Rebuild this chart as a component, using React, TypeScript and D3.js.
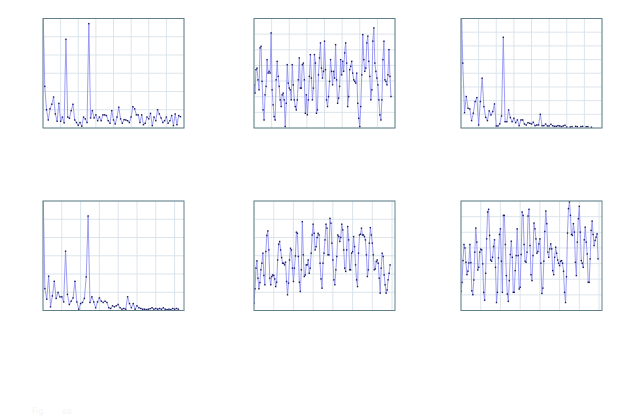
import React from "react";
import * as d3 from "d3";

// ---------- data (values in panel units) ----------
const series1: (number | null)[] = [6.6, 2.28, 1.0, 0.44, 1.05, 1.3, 1.7, 0.77, 0.37, 1.35, 0.37, 0.6, 0.28, 4.86, 0.6, 0.53, 0.95, 1.3, 0.44, 0.3, 0.15, 0.3, 0.1, 0.6, 0.5, 0.3, 5.72, 0.55, 0.95, 0.55, 0.72, 0.4, 0.6, 0.4, 0.72, 0.72, 0.68, 0.4, 0.26, 0.95, 0.44, 0.22, 0.6, 1.14, 0.5, 0.26, 0.46, 0.44, 0.4, 0.3, 0.6, 1.17, 1.05, 0.72, 0.72, 0.3, 0.72, 0.18, 0.26, 0.6, 0.5, 0.8, 0.13, 0.6, 0.4, 1.0, 0.77, 0.55, 0.3, 0.4, 0.6, 0.26, 0.4, 0.68, 0.13, 0.77, 0.18, 0.68, 0.62];

const series2: (number | null)[] = [2.76, 2.23, 3.73, 3.83, 3.08, 2.44, 5.12, 5.22, 2.98, 1.16, 0.51, 2.12, 2.66, 4.37, 3.51, 3.62, 3.51, 6.08, 2.44, 1.48, 0.73, 0.51, 3.08, 4.26, 3.3, 2.66, 1.8, 1.37, 2.12, 2.23, 1.8, 0.09, 1.58, 4.05, 2.87, 2.55, 2.44, 1.8, 4.05, 2.76, 1.8, 1.37, 1.16, 1.8, 3.08, 4.48, 2.55, 2.55, 4.05, 4.15, 3.08, 0.94, 2.12, 0.84, 1.8, 3.3, 4.69, 3.19, 1.8, 2.55, 4.69, 4.15, 0.94, 1.16, 3.4, 4.48, 5.44, 3.83, 3.19, 3.62, 5.55, 3.73, 1.8, 1.37, 2.01, 2.98, 4.37, 3.62, 2.76, 3.62, 3.19, 5.33, 3.08, 1.58, 1.91, 2.66, 4.37, 3.4, 4.26, 3.62, 4.8, 5.44, 4.15, 1.37, 2.01, 3.73, 3.94, 4.26, 3.51, 3.08, 2.98, 2.87, 3.51, 1.58, 0.62, 0.09, 1.37, 3.4, 5.97, 4.37, 3.62, 3.83, 5.44, 5.87, 4.26, 3.3, 1.8, 2.44, 5.55, 6.4, 4.15, 3.62, 3.19, 2.76, 1.8, 0.84, 0.51, 1.8, 4.37, 5.55, 3.08, 2.98, 2.76, 3.4, 5.01, 3.3, 2.01];

const series3: (number | null)[] = [10, 4.74, 1.12, 2.3, 1.44, 1.39, 0.54, 1.08, 1.93, 2.22, 0.22, 1.93, 3.64, 1.56, 0.78, 0.54, 1.25, 0.95, 1.2, 1.76, 0.15, 0.15, 0.3, 0.88, 6.63, 0.46, 0.46, 1.32, 0.76, 0.46, 0.71, 0.39, 0.59, 0.17, 0.59, 0.59, 0.29, 0.22, 0.39, 0.34, 0.29, 0.42, 0.17, 0.22, 0.22, 1.0, 0.17, 0.17, 0.29, 0.15, 0.15, 0.27, 0.17, 0.12, 0.12, 0.17, 0.15, 0.1, 0.15, 0.2, 0.07, null, 0.08, 0.1, null, 0.12, 0.1, null, 0.1, 0.12, null, 0.1, 0.1, null, 0.06];

const series4: (number | null)[] = [7, 1.2, 0.62, 1.88, 0.2, 0.8, 1.6, 0.66, 0.99, 0.75, 0.75, 0.47, 3.25, 0.88, 0.33, 0.51, 0.69, 1.6, 0.47, 0.07, 0.38, 0.44, 0.66, 1.84, 5.18, 0.44, 0.75, 0.47, 0.15, 0.47, 0.69, 0.51, 0.44, 0.51, 0.44, 0.15, 0.11, 0.26, 0.2, 0.26, 0.33, 0.15, 0.07, 0.11, 0.07, 0.75, 0.38, 0.15, 0.38, 0.07, 0.26, 0.15, 0.11, 0.07, 0.07, 0.05, 0.07, 0.1, 0.15, 0.07, 0.11, 0.07, 0.11, 0.07, 0.15, 0.07, 0.05, 0.07, 0.05, 0.11, 0.07, 0.11, 0.07];

const series5: (number | null)[] = [0.4, 1.19, 2.32, 2.72, 1.77, 1.19, 1.53, 2.23, 2.59, 3.14, 1.92, 1.41, 3.23, 4.11, 4.36, 3.32, 1.77, 1.41, 1.86, 1.95, 1.92, 1.73, 1.31, 1.55, 2.77, 3.63, 3.78, 3.32, 2.9, 2.59, 2.59, 2.5, 2.65, 1.59, 0.86, 1.5, 2.77, 3.41, 3.32, 2.32, 1.59, 2.32, 2.99, 4.29, 4.23, 2.96, 1.55, 1.04, 2.23, 4.87, 3.05, 1.86, 1.95, 2.5, 2.5, 2.77, 2.04, 2.32, 3.14, 4.14, 4.73, 4.23, 3.32, 3.5, 4.0, 4.23, 4.14, 2.59, 1.73, 1.22, 2.59, 3.14, 3.87, 4.73, 4.51, 3.05, 3.05, 5.05, 4.78, 3.69, 2.77, 1.68, 1.41, 2.23, 2.96, 4.14, 4.05, 3.78, 4.0, 4.73, 4.42, 3.32, 2.32, 2.14, 3.32, 4.6, 3.87, 2.23, 2.23, 3.14, 3.23, 4.05, 3.5, 2.5, 1.68, 1.31, 3.14, 4.14, 4.18, 4.51, 4.14, 4.14, 4.05, 3.87, 3.05, 1.86, 2.23, 3.69, 4.54, 4.14, 3.69, 3.05, 2.23, 2.28, 2.68, 2.77, 2.59, 1.77, 0.95, 2.32, 3.14, 2.96, 1.95, 1.41, 0.95, 1.13, 1.68, 2.04, 2.5];

const series6: (number | null)[] = [1.22, 1.8, 3.19, 4.22, 4.0, 3.08, 2.29, 2.51, 3.04, 4.22, 3.06, 1.26, 1.01, 1.95, 3.73, 5.27, 4.37, 2.59, 2.76, 3.73, 3.92, 3.88, 2.98, 1.16, 0.66, 2.38, 4.58, 6.3, 6.47, 4.8, 3.23, 3.15, 3.4, 4.09, 4.52, 2.76, 0.51, 1.16, 3.36, 4.86, 5.22, 3.15, 1.16, 6.08, 6.08, 4.22, 2.23, 1.05, 0.58, 1.91, 3.58, 4.43, 3.4, 1.16, 1.16, 2.55, 3.51, 5.22, 3.51, 1.37, 1.48, 3.58, 6.3, 6.08, 4.22, 3.15, 3.08, 3.73, 6.04, 6.47, 4.15, 2.29, 1.91, 3.51, 5.59, 5.22, 4.58, 3.66, 3.77, 4.26, 4.58, 3.02, 1.09, 1.43, 3.15, 5.05, 6.36, 5.55, 3.73, 3.4, 3.94, 4.26, 3.94, 2.55, 2.29, 3.4, 4.05, 3.66, 3.23, 3.02, 2.87, 3.15, 3.19, 3.02, 2.51, 1.16, 0.51, 2.16, 4.95, 6.51, 6.94, 6.08, 4.86, 4.8, 5.55, 5.01, 3.08, 2.23, 4.37, 5.87, 6.66, 5.01, 3.19, 3.02, 2.76, 4.52, 5.33, 4.37, 3.62, 1.8, 1.8, 3.3, 5.12, 5.72, 4.86, 4.15, 4.48, 4.69, 4.9, 3.3];

// axis extents per panel
const xMaxes = [80, 140, 80, 75, 143, 143];
const xSteps = [10, 17.5, 10, 10, 20, 20];
const yMaxes = [6, 7, 8, 6, 6, 7];
const ySteps = [1, 1, 1, 1, 1, 1];
const allSeries = [series1, series2, series3, series4, series5, series6];
const footLabels = ["Fig.", "ab"];

// ---------- layout ----------
const W = 636;
const H = 420;
const colX = [43, 254, 461];
const rowY = [18.5, 201];
const PW = 141;
const PH = 109.5;

function Panel({ idx }: { idx: number }) {
  const data = allSeries[idx];
  const x0 = colX[idx % 3];
  const y0 = rowY[Math.floor(idx / 3)];
  const x = d3.scaleLinear().domain([0, xMaxes[idx]]).range([0, PW]);
  const y = d3.scaleLinear().domain([0, yMaxes[idx]]).range([PH, 0]);
  const xt = d3.range(0, xMaxes[idx] + 1e-6, xSteps[idx]);
  const yt = d3.range(0, yMaxes[idx] + 1e-6, ySteps[idx]);
  const pts = data.map((v, i) => ({ i, v }));
  const line = d3
    .line<{ i: number; v: number | null }>()
    .defined((d) => d.v !== null)
    .x((d) => x(d.i))
    .y((d) => y(d.v as number));
  const clipId = `clip${idx}`;
  return (
    <g transform={`translate(${x0},${y0})`}>
      <defs>
        <clipPath id={clipId}>
          <rect x={0} y={0} width={PW} height={PH} />
        </clipPath>
      </defs>
      <rect x={0} y={0} width={PW} height={PH} fill="#ffffff" />
      {xt.map((t) => (
        <line key={"x" + t} x1={x(t)} x2={x(t)} y1={0} y2={PH} stroke="#d8e2ea" strokeWidth={0.9} />
      ))}
      {yt.map((t) => (
        <line key={"y" + t} x1={0} x2={PW} y1={y(t)} y2={y(t)} stroke="#d8e2ea" strokeWidth={0.9} />
      ))}
      <g clipPath={`url(#${clipId})`}>
        <path d={line(pts) || ""} fill="none" stroke="#8a8cf0" strokeWidth={0.85} />
        {pts
          .filter((d) => d.v !== null)
          .map((d) => (
            <rect
              key={d.i}
              x={x(d.i) - 0.7}
              y={y(d.v as number) - 0.7}
              width={1.4}
              height={1.4}
              fill="#1c1c5c"
            />
          ))}
      </g>
      <rect x={0} y={0} width={PW} height={PH} fill="none" stroke="#62808a" strokeWidth={1} />
    </g>
  );
}

export default function App() {
  return (
    <svg width={W} height={H} style={{ display: "block", position: "absolute", left: 0, top: 0 }}
      fontFamily="DejaVu Sans">
      <rect width={W} height={H} fill="#ffffff" />
      {[0, 1, 2, 3, 4, 5].map((i) => (
        <Panel key={i} idx={i} />
      ))}
      <text x={32} y={414} fontSize={8} fill="#f5f5f5">{footLabels[0]}</text>
      <text x={62} y={414} fontSize={8} fill="#f5f5f5">{footLabels[1]}</text>
    </svg>
  );
}
